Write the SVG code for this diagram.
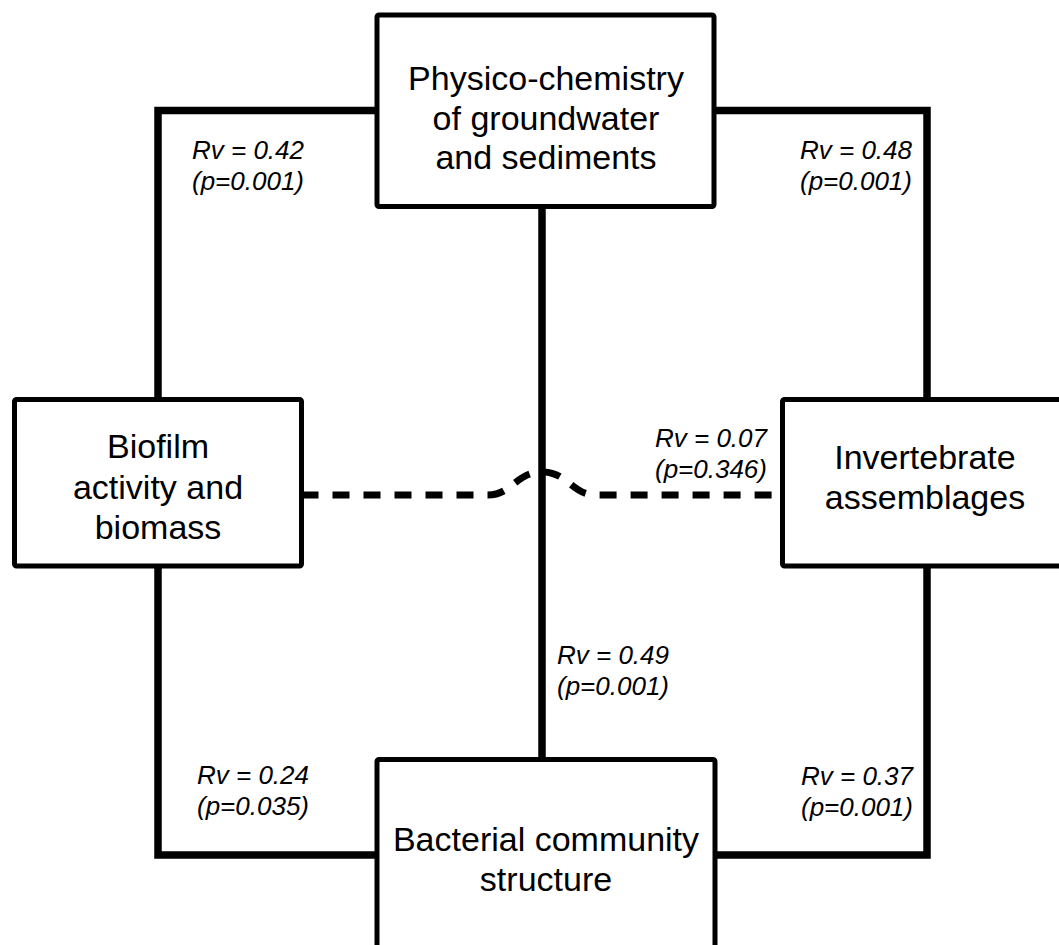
<svg xmlns="http://www.w3.org/2000/svg" width="1059" height="945" viewBox="0 0 1059 945">
<style>
.conn{fill:none;stroke:#000;stroke-width:7.5;stroke-linejoin:miter;stroke-linecap:butt}
.dash{fill:none;stroke:#000;stroke-width:7;stroke-dasharray:17 14}
.box{fill:#fff;stroke:#000;stroke-width:5}
.nt{font-family:"Liberation Sans",Arial,sans-serif;font-size:34px;fill:#000;text-anchor:middle}
.lb{font-family:"Liberation Sans",Arial,sans-serif;font-size:26px;font-style:italic;fill:#000}
.end{text-anchor:end}
</style>
<rect width="1059" height="945" fill="#fff"/>
<g id="connectors">
<path class="dash" d="M301.5,495 H488 C512,495 516,472 542,472 C568,472 572,495 596,495 H782.5"/>
<path class="conn" d="M377,110.5 H158 V399.5"/>
<path class="conn" d="M714,110.5 H927 V399.5"/>
<path class="conn" d="M158,566 V855 H377"/>
<path class="conn" d="M927,566 V855 H715"/>
<path class="conn" d="M542,206.5 V759.5"/>
<text class="lb" x="192" y="159">Rv = 0.42</text>
<text class="lb" x="192" y="190">(p=0.001)</text>
<text class="lb end" x="912" y="159">Rv = 0.48</text>
<text class="lb end" x="912" y="190">(p=0.001)</text>
<text class="lb end" x="767" y="447">Rv = 0.07</text>
<text class="lb end" x="767" y="478">(p=0.346)</text>
<text class="lb" x="557" y="664">Rv = 0.49</text>
<text class="lb" x="557" y="695">(p=0.001)</text>
<text class="lb" x="197" y="784">Rv = 0.24</text>
<text class="lb" x="197" y="815">(p=0.035)</text>
<text class="lb end" x="913" y="785">Rv = 0.37</text>
<text class="lb end" x="913" y="816">(p=0.001)</text>
</g>
<g id="physico">
<rect class="box" x="377" y="15" width="337" height="191.5" rx="2"/>
<text class="nt" x="546" y="90">Physico-chemistry</text>
<text class="nt" x="546" y="130">of groundwater</text>
<text class="nt" x="546" y="169">and sediments</text>
</g>
<g id="biofilm">
<rect class="box" x="14.5" y="399.5" width="287" height="166.5" rx="2"/>
<text class="nt" x="158" y="458">Biofilm</text>
<text class="nt" x="158" y="499">activity and</text>
<text class="nt" x="158" y="539">biomass</text>
</g>
<g id="invertebrate">
<rect class="box" x="782.5" y="399.5" width="287" height="166.5" rx="2"/>
<text class="nt" x="925" y="469">Invertebrate</text>
<text class="nt" x="925" y="509">assemblages</text>
</g>
<g id="bacterial">
<rect class="box" x="377" y="759.5" width="338" height="200" rx="2"/>
<text class="nt" x="546" y="851">Bacterial community</text>
<text class="nt" x="546" y="891">structure</text>
</g>
</svg>
